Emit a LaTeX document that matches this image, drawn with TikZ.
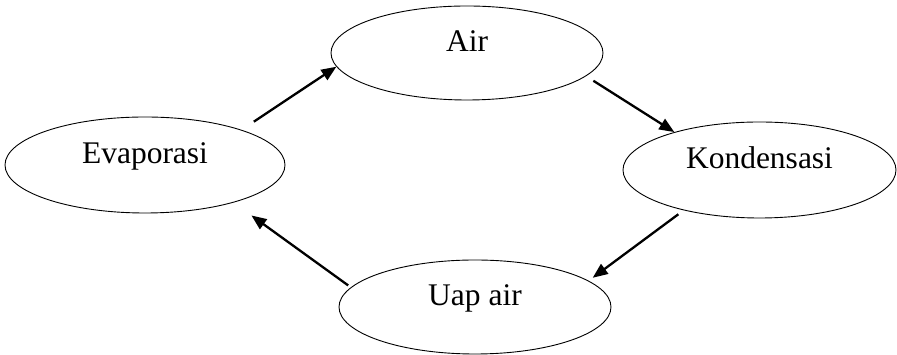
\documentclass[tikz,border=0pt]{standalone}
\usepackage{fontspec}
\setmainfont{Liberation Serif}
\usetikzlibrary{shapes.geometric,arrows.meta}
\begin{document}
\begin{tikzpicture}[x=1pt,y=1pt,
  stage/.style={ellipse, draw, line width=0.9pt, inner sep=0pt,
    minimum width=272pt, minimum height=94pt,
    text height=0pt, text depth=3pt,
    font=\fontsize{31.5}{36}\selectfont},
  flow/.style={line width=2.3pt, -{Triangle[length=15pt,width=12pt]}}]
  \useasboundingbox (0,0) rectangle (897,355);
  % the four stages of the cycle
  \node[stage, minimum width=280pt, minimum height=96pt] (evap) at (145,190) {Evaporasi};
  \node[stage] (air) at (467,302) {Air};
  \node[stage, minimum width=273pt, minimum height=96pt] (kond) at (759.5,185) {Kondensasi};
  \node[stage] (uap) at (475,48) {Uap air};
  % arrows between the stages
  \draw[flow, shorten <=14.7pt] (evap.20.2) -- (air.186.6);
  \draw[flow, shorten <=8.6pt] (air.349.5) -- (kond.156.4);
  \draw[flow, shorten <=6.6pt, shorten >=5pt] (kond.208.1) -- (uap.13);
  \draw[flow, shorten <=3.3pt, shorten >=22pt] (uap.171.3) -- (evap.337.6);
\end{tikzpicture}
\end{document}
